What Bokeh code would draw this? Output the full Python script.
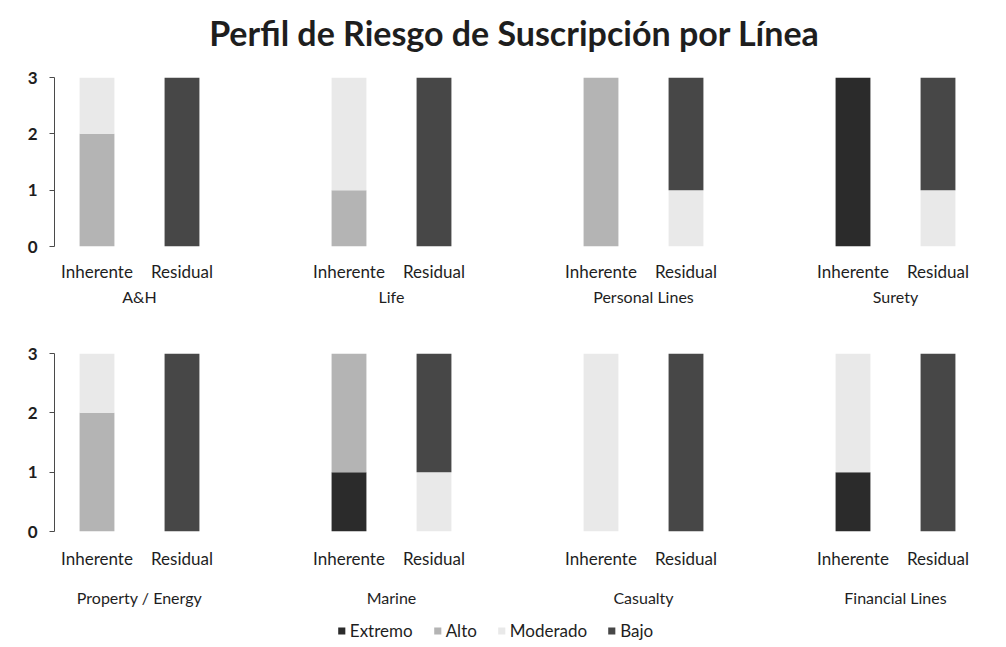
from bokeh.plotting import figure
from bokeh.models import FactorRange, Range1d, FixedTicker, Div, Legend, LegendItem, ColumnDataSource
from bokeh.layouts import column, row
from bokeh.embed import file_html
from bokeh.resources import INLINE

# ---- data ----
lines = ["A&H", "Life", "Personal Lines", "Surety",
         "Property / Energy", "Marine", "Casualty", "Financial Lines"]
bars = ["Inherente", "Residual"]
levels = ["Extremo", "Alto", "Moderado", "Bajo"]

inh_extremo = [0, 0, 0, 3, 0, 1, 0, 1]
inh_alto = [2, 1, 3, 0, 2, 2, 0, 0]
inh_moderado = [1, 2, 0, 0, 1, 0, 3, 2]
inh_bajo = [0, 0, 0, 0, 0, 0, 0, 0]

res_extremo = [0, 0, 0, 0, 0, 0, 0, 0]
res_alto = [0, 0, 0, 0, 0, 0, 0, 0]
res_moderado = [0, 0, 1, 1, 0, 1, 0, 0]
res_bajo = [3, 3, 2, 2, 3, 2, 3, 3]

y_ticks = [0, 1, 2, 3]
title_text = "Perfil de Riesgo de Suscripción por Línea"

# ---- styles ----
colors = {"Extremo": "#2b2b2b", "Alto": "#b4b4b4", "Moderado": "#e9e9e9", "Bajo": "#474747"}
FONT = "Lato"
TXT = "#1e1e1e"

inh = {"Extremo": inh_extremo, "Alto": inh_alto, "Moderado": inh_moderado, "Bajo": inh_bajo}
res = {"Extremo": res_extremo, "Alto": res_alto, "Moderado": res_moderado, "Bajo": res_bajo}


def panel(i, row_idx):
    col = i % 4
    left = 54 if col == 0 else 41
    right = 10 if col == 3 else 41
    if row_idx == 0:
        top, frame_h, bottom, standoff, lstand = 15, 169, 70, 14, 2
    else:
        top, frame_h, bottom, standoff, lstand = 37, 178, 75, 16, 16
    p = figure(x_range=FactorRange(factors=bars), y_range=Range1d(0, 3),
               frame_width=170, frame_height=frame_h,
               output_backend="svg", toolbar_location=None,
               min_border_left=left, min_border_right=right,
               min_border_top=top, min_border_bottom=bottom)
    data = {"x": bars}
    for lv in levels:
        data[lv] = [inh[lv][i], res[lv][i]]
    src = ColumnDataSource(data)
    p.vbar_stack(levels, x="x", width=0.41, source=src,
                 fill_color=[colors[l] for l in levels],
                 line_color=None)
    p.outline_line_color = None
    p.grid.visible = False
    p.background_fill_color = "white"
    p.border_fill_color = "white"
    xa = p.xaxis[0]
    xa.axis_line_color = None
    xa.major_tick_line_color = None
    xa.minor_tick_line_color = None
    xa.major_tick_out = 0
    xa.major_tick_in = 0
    xa.major_label_standoff = standoff
    xa.major_label_text_font = FONT
    xa.major_label_text_font_size = "17px"
    xa.major_label_text_color = TXT
    xa.axis_label = lines[i]
    xa.axis_label_text_font = FONT
    xa.axis_label_text_font_style = "normal"
    xa.axis_label_text_font_size = "16px"
    xa.axis_label_text_color = TXT
    xa.axis_label_standoff = lstand
    ya = p.yaxis[0]
    if col == 0:
        ya.ticker = FixedTicker(ticks=y_ticks)
        ya.axis_line_color = "#4a4a4a"
        ya.major_tick_line_color = "#4a4a4a"
        ya.major_tick_out = 5
        ya.major_tick_in = 0
        ya.minor_tick_line_color = None
        ya.major_label_text_font = FONT
        ya.major_label_text_font_size = "17px"
        ya.major_label_text_font_style = "bold"
        ya.major_label_text_color = TXT
        ya.major_label_standoff = 12
    else:
        ya.visible = False
    return p


figs = [panel(i, 0 if i < 4 else 1) for i in range(8)]

title = Div(text=title_text, width=990, height=52,
            styles={"font-family": FONT, "font-size": "34px", "font-weight": "bold",
                    "color": "#1e1e1e", "text-align": "center", "width": "990px",
                    "line-height": "56px", "padding-left": "28px"})

# legend figure
lg = figure(width=990, height=32, x_range=Range1d(0, 1), y_range=Range1d(0, 1),
            output_backend="svg", toolbar_location=None, min_border=0)
lg.axis.visible = False
lg.grid.visible = False
lg.outline_line_color = None
items = []
for lv in levels:
    r = lg.vbar(x=[0.5], top=[0], bottom=[0], width=0.0, fill_color=colors[lv], line_color=None)
    items.append(LegendItem(label=lv, renderers=[r]))
legend = Legend(items=items, orientation="horizontal", location="bottom_center",
                border_line_color=None, background_fill_alpha=0,
                label_text_font=FONT, label_text_font_size="17px",
                label_text_color=TXT, glyph_width=9, glyph_height=9,
                spacing=20, label_standoff=4, padding=2, margin=0)
lg.add_layout(legend, "center")

layout = column(title, row(*figs[:4]), row(*figs[4:]), lg)
open("out.html", "w").write(file_html(layout, INLINE))
